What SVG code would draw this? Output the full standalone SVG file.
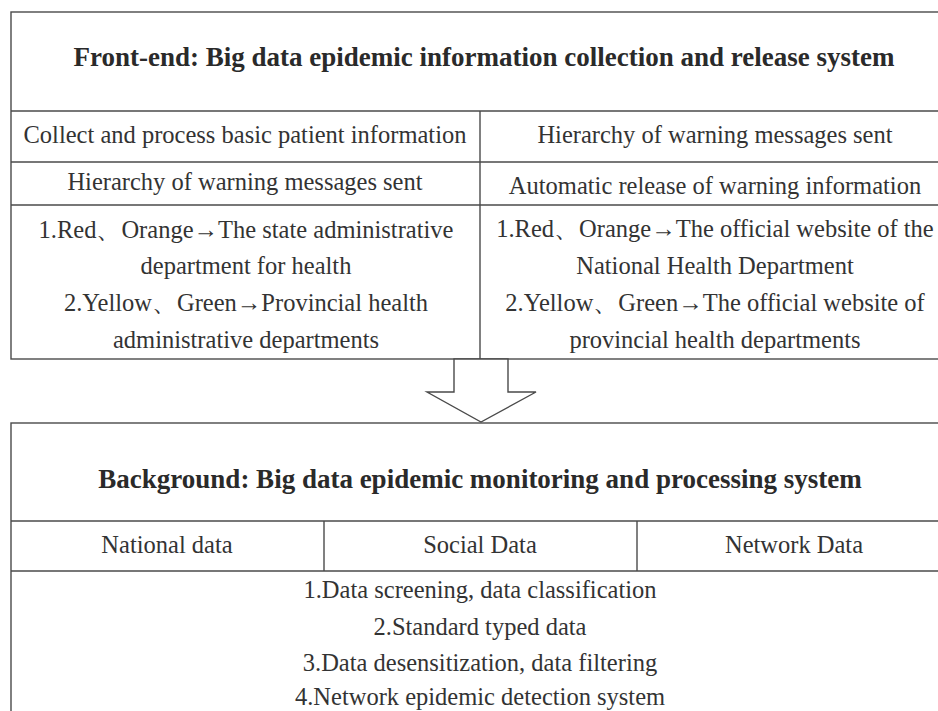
<svg xmlns="http://www.w3.org/2000/svg" width="938" height="711" viewBox="0 0 938 711">
<style>
.ln{fill:none;stroke:#4a4a4a;stroke-width:1.4}
.t{font-family:"Liberation Serif","Times New Roman",serif;font-size:24.5px;fill:#333;text-anchor:middle}
.b{font-family:"Liberation Serif","Times New Roman",serif;font-size:27px;font-weight:bold;fill:#2a2a2a;text-anchor:middle}
</style>
<rect width="938" height="711" fill="#fff"/>
<g id="front-end">
<rect class="ln" x="11" y="12" width="940" height="347"/>
<line class="ln" x1="11" y1="111" x2="951" y2="111"/>
<line class="ln" x1="11" y1="162" x2="951" y2="162"/>
<line class="ln" x1="11" y1="205" x2="951" y2="205"/>
<line class="ln" x1="480" y1="111" x2="480" y2="359"/>
<text class="b" x="484" y="66">Front-end: Big data epidemic information collection and release system</text>
<text class="t" x="245" y="143">Collect and process basic patient information</text>
<text class="t" x="715" y="143">Hierarchy of warning messages sent</text>
<text class="t" x="245" y="190">Hierarchy of warning messages sent</text>
<text class="t" x="715" y="194">Automatic release of warning information</text>
<text class="t" x="246" y="238">1.Red、Orange→The state administrative</text>
<text class="t" x="246" y="274">department for health</text>
<text class="t" x="246" y="311">2.Yellow、Green→Provincial health</text>
<text class="t" x="246" y="348">administrative departments</text>
<text class="t" x="715" y="237">1.Red、Orange→The official website of the</text>
<text class="t" x="715" y="274">National Health Department</text>
<text class="t" x="715" y="311">2.Yellow、Green→The official website of</text>
<text class="t" x="715" y="348">provincial health departments</text>
</g>
<g id="connectors">
<polygon class="ln" style="fill:#fff" points="454,359 454,392 427,392 481,422 536,392 508,392 508,359"/>
</g>
<g id="background">
<rect class="ln" x="11" y="423" width="940" height="310"/>
<line class="ln" x1="11" y1="521" x2="951" y2="521"/>
<line class="ln" x1="11" y1="571" x2="951" y2="571"/>
<line class="ln" x1="324" y1="521" x2="324" y2="571"/>
<line class="ln" x1="637" y1="521" x2="637" y2="571"/>
<text class="b" x="480" y="488">Background: Big data epidemic monitoring and processing system</text>
<text class="t" x="167" y="553">National data</text>
<text class="t" x="480" y="553">Social Data</text>
<text class="t" x="794" y="553">Network Data</text>
<text class="t" x="480" y="598">1.Data screening, data classification</text>
<text class="t" x="480" y="635">2.Standard typed data</text>
<text class="t" x="480" y="671">3.Data desensitization, data filtering</text>
<text class="t" x="480" y="705">4.Network epidemic detection system</text>
</g>
</svg>
